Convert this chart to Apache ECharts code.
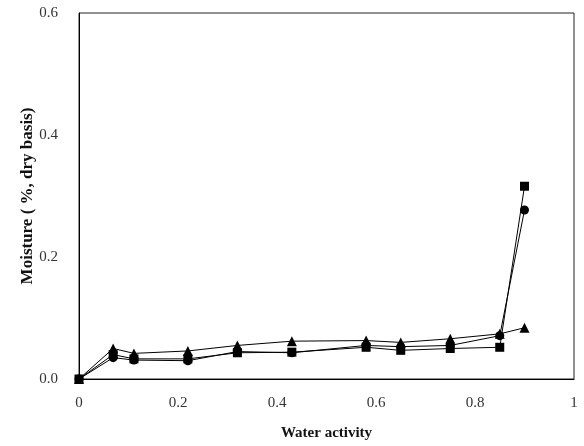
<!DOCTYPE html>
<html>
<head>
<meta charset="utf-8">
<script src="https://cdn.jsdelivr.net/npm/echarts@6/dist/echarts.min.js"></script>
<style>
  html, body { margin: 0; padding: 0; background: #fff; }
  #chart { width: 584px; height: 446px; }
</style>
</head>
<body>
<div id="chart"></div>
<script>
var waterActivity = [0, 0.069, 0.111, 0.22, 0.32, 0.43, 0.58, 0.65, 0.75, 0.85, 0.90];
var squareMoisture = [0, 0.040, 0.033, 0.033, 0.043, 0.044, 0.052, 0.047, 0.050, 0.052, 0.316];
var circleMoisture = [0, 0.035, 0.031, 0.030, 0.045, 0.043, 0.055, 0.053, 0.055, 0.071, 0.277];
var triangleMoisture = [0, 0.050, 0.042, 0.046, 0.055, 0.062, 0.063, 0.060, 0.066, 0.074, 0.084];
var yTickLabels = ['0.0', '0.2', '0.4', '0.6'];

var serif = "'Liberation Serif', 'Times New Roman', serif";

function pairs(values) {
    return waterActivity.map(function (x, i) { return [x, values[i]]; });
}

function makeSeries(name, symbol, size, values) {
    return {
        type: 'line',
        name: name,
        data: pairs(values),
        symbol: symbol,
        symbolSize: size,
        showAllSymbol: true,
        itemStyle: { color: '#000' },
        lineStyle: { color: '#000', width: 1 },
        animation: false
    };
}

var chart = echarts.init(document.getElementById('chart'), null, { renderer: 'canvas' });

chart.setOption({
    backgroundColor: '#fff',
    animation: false,
    grid: {
        left: 79,
        right: 10,
        top: 13,
        bottom: 62,
        show: true,
        borderColor: '#222',
        borderWidth: 1,
        containLabel: false
    },
    xAxis: {
        type: 'value',
        min: 0,
        max: 1,
        interval: 0.2,
        name: 'Water activity',
        nameLocation: 'middle',
        nameGap: 47,
        nameTextStyle: { fontFamily: serif, fontWeight: 'bold', fontSize: 15, color: '#111' },
        axisLine: { lineStyle: { color: '#000', width: 1 } },
        axisTick: { show: false },
        splitLine: { show: false },
        axisLabel: {
            margin: 17,
            fontFamily: serif,
            fontSize: 15,
            color: '#333',
            formatter: function (v) {
                if (v === 0) return '0';
                if (v === 1) return '1';
                return v.toFixed(1);
            }
        }
    },
    yAxis: {
        type: 'value',
        min: 0,
        max: 0.6,
        interval: 0.2,
        name: 'Moisture ( %, dry basis)',
        nameLocation: 'middle',
        nameGap: 43,
        nameMoveOverlap: false,
        nameRotate: 90,
        nameTextStyle: { fontFamily: serif, fontWeight: 'bold', fontSize: 17, color: '#111' },
        axisLine: { lineStyle: { color: '#000', width: 1 } },
        axisTick: { show: false },
        splitLine: { show: false },
        axisLabel: {
            margin: 21,
            fontFamily: serif,
            fontSize: 15,
            color: '#333',
            formatter: function (v) {
                return yTickLabels[Math.round(v / 0.2)];
            }
        }
    },
    series: [
        makeSeries('Triangle', 'triangle', 10, triangleMoisture),
        makeSeries('Circle', 'circle', 9, circleMoisture),
        makeSeries('Square', 'rect', 9, squareMoisture)
    ]
});
</script>
</body>
</html>
